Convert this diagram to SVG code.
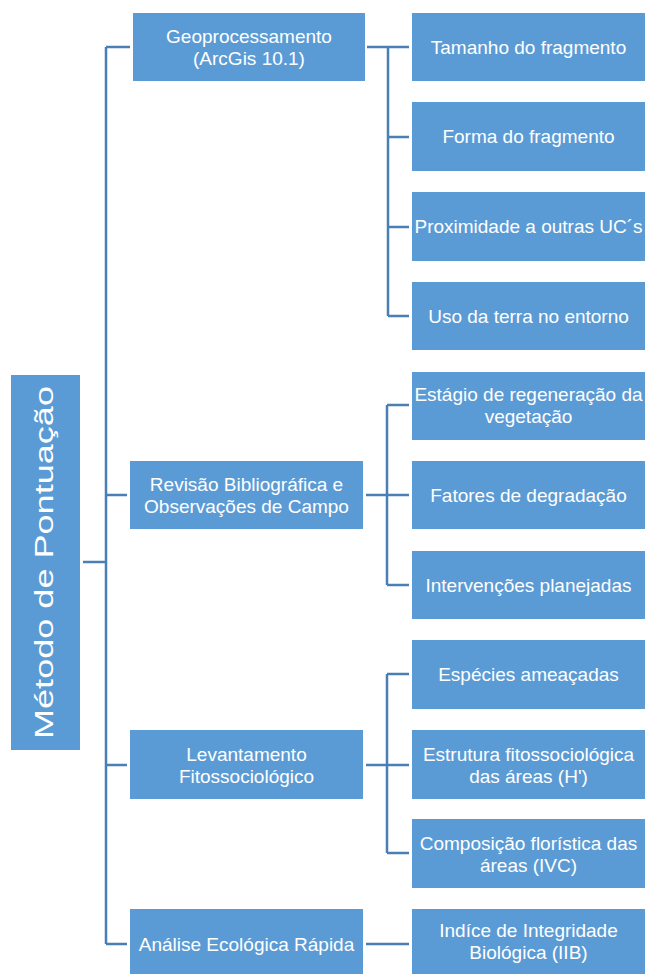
<svg xmlns="http://www.w3.org/2000/svg" width="645" height="974" viewBox="0 0 645 974">
<style>
  .box { fill: #5B9BD5; }
  .t { font-family: "Liberation Sans", Arial, sans-serif; font-size: 19px; fill: #FFFFFF; text-anchor: middle; }
  .root { font-family: "Liberation Sans", Arial, sans-serif; font-size: 25px; fill: #FFFFFF; }
  .c { stroke: #4A7FB5; stroke-width: 2.5; fill: none; }
</style>
<rect width="645" height="974" fill="#FFFFFF"/>
<g id="connectors">
  <path class="c" d="M83 562H106M106 47V944M106 47H130M106 495H127M106 765H127M106 944H127"/>
  <path class="c" d="M367 47H409M388 47V316M388 137H409M388 227H409M388 316H409"/>
  <path class="c" d="M366 495H409M387 405V585M387 405H409M387 585H409"/>
  <path class="c" d="M366 765H409M387 674V853M387 674H409M387 853H409"/>
  <path class="c" d="M366 944H409"/>
</g>
<g id="root">
  <rect class="box" x="11" y="375" width="69" height="375"/>
  <text class="root" transform="translate(53 739) rotate(-90)" textLength="353" lengthAdjust="spacingAndGlyphs">Método de Pontuação</text>
</g>
<g id="geoprocessamento">
  <rect class="box" x="133" y="13" width="232" height="68"/>
  <text class="t" x="249" y="43">Geoprocessamento</text>
  <text class="t" x="249" y="65">(ArcGis 10.1)</text>
</g>
<g id="revisao">
  <rect class="box" x="130" y="461" width="233" height="68"/>
  <text class="t" x="246.5" y="491">Revisão Bibliográfica e</text>
  <text class="t" x="246.5" y="513">Observações de Campo</text>
</g>
<g id="levantamento">
  <rect class="box" x="130" y="730" width="233" height="69"/>
  <text class="t" x="246.5" y="760.5">Levantamento</text>
  <text class="t" x="246.5" y="782.5">Fitossociológico</text>
</g>
<g id="analise">
  <rect class="box" x="130" y="909" width="233" height="69"/>
  <text class="t" x="246.5" y="950.5">Análise Ecológica Rápida</text>
</g>
<g id="tamanho">
  <rect class="box" x="412" y="13" width="233" height="68"/>
  <text class="t" x="528.5" y="53.5">Tamanho do fragmento</text>
</g>
<g id="forma">
  <rect class="box" x="412" y="102" width="233" height="69"/>
  <text class="t" x="528.5" y="143">Forma do fragmento</text>
</g>
<g id="proximidade">
  <rect class="box" x="412" y="192" width="233" height="69"/>
  <text class="t" x="528.5" y="233">Proximidade a outras UC´s</text>
</g>
<g id="uso">
  <rect class="box" x="412" y="282" width="233" height="68"/>
  <text class="t" x="528.5" y="322.5">Uso da terra no entorno</text>
</g>
<g id="estagio">
  <rect class="box" x="412" y="372" width="233" height="68"/>
  <text class="t" x="528.5" y="401">Estágio de regeneração da</text>
  <text class="t" x="528.5" y="423">vegetação</text>
</g>
<g id="fatores">
  <rect class="box" x="412" y="461" width="233" height="68"/>
  <text class="t" x="528.5" y="501.5">Fatores de degradação</text>
</g>
<g id="intervencoes">
  <rect class="box" x="412" y="551" width="233" height="68"/>
  <text class="t" x="528.5" y="591.5">Intervenções planejadas</text>
</g>
<g id="especies">
  <rect class="box" x="412" y="640" width="233" height="69"/>
  <text class="t" x="528.5" y="681">Espécies ameaçadas</text>
</g>
<g id="estrutura">
  <rect class="box" x="412" y="730" width="233" height="69"/>
  <text class="t" x="528.5" y="760.5">Estrutura fitossociológica</text>
  <text class="t" x="528.5" y="782.5">das áreas (H')</text>
</g>
<g id="composicao">
  <rect class="box" x="412" y="819" width="233" height="69"/>
  <text class="t" x="528.5" y="849.5">Composição florística das</text>
  <text class="t" x="528.5" y="871.5">áreas (IVC)</text>
</g>
<g id="indice">
  <rect class="box" x="412" y="909" width="233" height="69"/>
  <text class="t" x="528.5" y="937">Indíce de Integridade</text>
  <text class="t" x="528.5" y="959">Biológica (IIB)</text>
</g>
</svg>
